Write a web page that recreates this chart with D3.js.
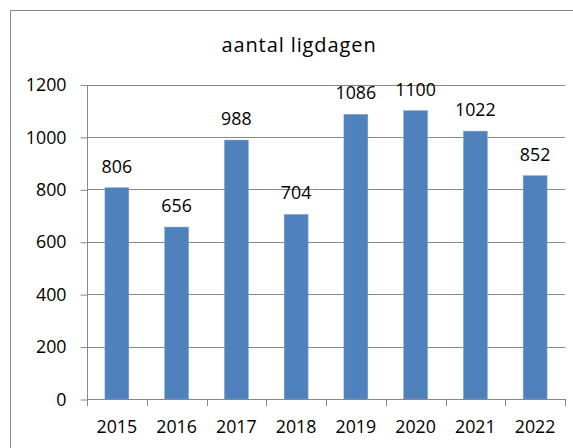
<!DOCTYPE html>
<html>
<head>
<meta charset="utf-8">
<script src="https://cdn.jsdelivr.net/npm/d3@7"></script>
<style>
  html, body { margin: 0; padding: 0; background: #fff; }
  svg { display: block; }
  text { font-family: "Open Sans", "Liberation Sans", sans-serif; fill: #000; }
</style>
</head>
<body>
<svg id="chart" width="573" height="448"></svg>
<script>
const title = "aantal ligdagen";
const categories = ["2015", "2016", "2017", "2018", "2019", "2020", "2021", "2022"];
const values = [806, 656, 988, 704, 1086, 1100, 1022, 852];
const yTicks = [0, 200, 400, 600, 800, 1000, 1200];

const svg = d3.select("#chart");
const W = 573, H = 448;
const plot = { left: 87, right: 565, top: 84.5, bottom: 399 };
const gridColor = "#888888";

svg.append("rect").attr("width", W).attr("height", H).attr("fill", "#fff");

// outer chart border (cropped at right/bottom)
svg.append("rect")
  .attr("x", 10.5).attr("y", 10.5)
  .attr("width", 700).attr("height", 600)
  .attr("fill", "none").attr("stroke", gridColor).attr("stroke-width", 1);

const x = d3.scaleBand().domain(categories)
  .range([plot.left, plot.right]).paddingInner(0.6).paddingOuter(0.3);
const y = d3.scaleLinear().domain([0, 1200]).range([plot.bottom, plot.top]);

// gridlines
svg.append("g").selectAll("line").data(yTicks.filter(d => d > 0)).join("line")
  .attr("x1", plot.left).attr("x2", plot.right)
  .attr("y1", d => Math.round(y(d)) + 0.5).attr("y2", d => Math.round(y(d)) + 0.5)
  .attr("stroke", gridColor).attr("stroke-width", 1);

// y axis
const yAxis = d3.axisLeft(y).tickValues(yTicks).tickSize(7).tickPadding(14).tickFormat(d3.format("d"));
const gy = svg.append("g").attr("transform", `translate(${plot.left + 0.5},0.5)`).call(yAxis);
gy.select(".domain").attr("stroke", gridColor).attr("d", `M0,${Math.round(y(1200))}V${Math.round(y(0))}`);
gy.selectAll(".tick line").attr("stroke", gridColor);
gy.selectAll(".tick text").attr("font-size", "17.8px").attr("font-family", "Open Sans, Liberation Sans, sans-serif").attr("fill", "#000");

// bars
svg.append("g").selectAll("rect").data(values).join("rect")
  .attr("x", (d, i) => x(categories[i]))
  .attr("width", x.bandwidth())
  .attr("y", d => y(d))
  .attr("height", d => y(0) - y(d))
  .attr("fill", "#4F81BD")
  .attr("stroke", "#7BA0D0").attr("stroke-width", 0.5);

// x axis line and boundary ticks
const step = x.step();
const boundaries = d3.range(categories.length + 1).map(i => plot.left + i * step);
const gx = svg.append("g");
gx.append("line")
  .attr("x1", plot.left).attr("x2", plot.right)
  .attr("y1", Math.round(y(0)) + 0.5).attr("y2", Math.round(y(0)) + 0.5)
  .attr("stroke", gridColor);
gx.selectAll("line.tk").data(boundaries).join("line").attr("class", "tk")
  .attr("x1", d => Math.round(d) + 0.5).attr("x2", d => Math.round(d) + 0.5)
  .attr("y1", Math.round(y(0))).attr("y2", Math.round(y(0)) + 7)
  .attr("stroke", gridColor);
gx.selectAll("text").data(categories).join("text")
  .attr("x", d => x(d) + x.bandwidth() / 2)
  .attr("y", 432.5)
  .attr("text-anchor", "middle")
  .attr("font-size", "17.8px")
  .text(d => d);

// value labels
svg.append("g").selectAll("text").data(values).join("text")
  .attr("x", (d, i) => x(categories[i]) + x.bandwidth() / 2)
  .attr("y", d => y(d) - 15)
  .attr("text-anchor", "middle")
  .attr("font-size", "17.8px")
  .text(d => d);

// title
svg.append("text")
  .attr("x", 299).attr("y", 52)
  .attr("text-anchor", "middle")
  .attr("font-size", "20px")
  .attr("letter-spacing", "0.9px")
  .text(title);
</script>
</body>
</html>
